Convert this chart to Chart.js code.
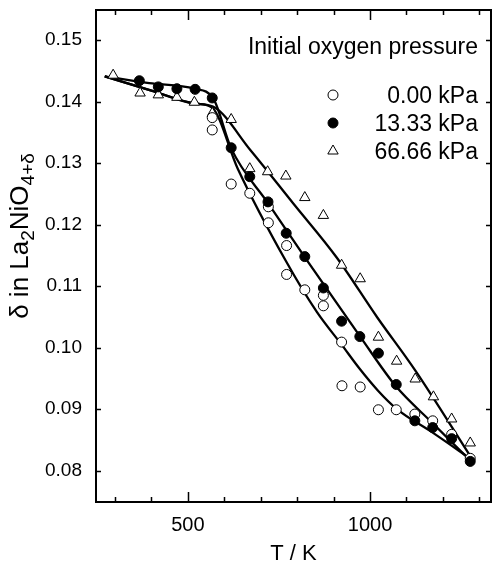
<!DOCTYPE html>
<html>
<head>
<meta charset="utf-8">
<script src="https://cdn.jsdelivr.net/npm/chart.js@4.4.1/dist/chart.umd.min.js"></script>
<style>
  html, body { margin: 0; padding: 0; background: #fff; }
  #wrap { width: 498px; height: 572px; position: relative; }
</style>
</head>
<body>
<div id="wrap"><canvas id="c" width="498" height="572"></canvas></div>
<script>
const FONT = '"Liberation Sans", Arial, Helvetica, sans-serif';

// Measured oxygen nonstoichiometry, 0.00 kPa initial O2
const tempOpen  = [567, 567, 619, 670, 721, 721, 771, 771, 821, 872, 872, 922, 923, 973, 1023, 1072, 1123, 1172, 1224, 1275];
const deltaOpen = [0.1374, 0.1354, 0.1266, 0.1251, 0.1229, 0.1203, 0.1166, 0.1119, 0.1094, 0.1085, 0.1068, 0.1009, 0.0938, 0.0936, 0.0899, 0.0899, 0.0892, 0.0881, 0.0859, 0.0820];

// 13.33 kPa
const tempFilled  = [367, 419, 470, 520, 567, 619, 670, 720, 770, 821, 872, 922, 972, 1023, 1072, 1123, 1172, 1224, 1275];
const deltaFilled = [0.1434, 0.1424, 0.1421, 0.1420, 0.1406, 0.1325, 0.1278, 0.1237, 0.1186, 0.1148, 0.1097, 0.1043, 0.1018, 0.0991, 0.0940, 0.0881, 0.0870, 0.0852, 0.0815];

// 66.66 kPa
const tempTri  = [295, 369, 419, 470, 518, 567, 619, 670, 719, 769, 821, 872, 922, 973, 1023, 1073, 1124, 1174, 1224, 1275];
const deltaTri = [0.1443, 0.1414, 0.1411, 0.1407, 0.1399, 0.1381, 0.1371, 0.1291, 0.1286, 0.1279, 0.1244, 0.1215, 0.1134, 0.1112, 0.1017, 0.0978, 0.0949, 0.0920, 0.0884, 0.0845];

// Fitted curves
const fitTempA  = [272, 400, 518, 565, 637, 768, 854, 923, 971, 1022, 1072, 1174, 1276];
const fitDeltaA = [0.1441, 0.1418, 0.1397, 0.1391, 0.1291, 0.1142, 0.1058, 0.1004, 0.0966, 0.0930, 0.0901, 0.0861, 0.0819];
const fitTempB  = [272, 394, 518, 570, 619, 720, 827, 973, 1070, 1172, 1276];
const fitDeltaB = [0.1441, 0.1430, 0.1421, 0.1405, 0.1324, 0.1235, 0.1142, 0.1018, 0.0938, 0.0877, 0.0816];
const fitTempC  = [272, 400, 518, 569, 672, 790, 908, 1020, 1124, 1279];
const fitDeltaC = [0.1441, 0.1418, 0.1397, 0.1392, 0.1321, 0.1234, 0.1147, 0.1049, 0.0963, 0.0820];

// Axes
const xLabelTicks = [500, 1000];
const xMinorTicks = [300, 400, 500, 600, 700, 800, 900, 1000, 1100, 1200, 1300];
const yTickValues = [0.08, 0.09, 0.10, 0.11, 0.12, 0.13, 0.14, 0.15];
const xTitle = 'T / K';

// Legend
const legendTitle = 'Initial oxygen pressure';
const seriesLabels = ['0.00 kPa', '13.33 kPa', '66.66 kPa'];

const toPts = (xs, ys) => xs.map((v, i) => ({ x: v, y: ys[i] }));

const lineStyle = {
  showLine: true, pointRadius: 0, pointHoverRadius: 0,
  borderColor: '#000', borderWidth: 2.3, fill: false,
  cubicInterpolationMode: 'monotone'
};

function drawMarker(ctx, kind, x, y) {
  ctx.save();
  ctx.strokeStyle = '#000';
  ctx.lineWidth = 1;
  ctx.beginPath();
  if (kind === 'tri') {
    const r = 6;
    ctx.moveTo(x, y - r);
    ctx.lineTo(x + r * Math.sin(Math.PI * 2 / 3), y - r * Math.cos(Math.PI * 2 / 3));
    ctx.lineTo(x - r * Math.sin(Math.PI * 2 / 3), y - r * Math.cos(Math.PI * 2 / 3));
    ctx.closePath();
    ctx.fillStyle = '#fff';
  } else {
    ctx.arc(x, y, 5, 0, Math.PI * 2);
    ctx.fillStyle = kind === 'filled' ? '#000' : '#fff';
  }
  ctx.fill();
  ctx.stroke();
  ctx.restore();
}

const decorations = {
  id: 'decorations',
  afterDatasetsDraw(chart) {
    const { ctx, chartArea: a, scales: { x, y } } = chart;
    ctx.save();
    // frame
    ctx.strokeStyle = '#000';
    ctx.lineWidth = 2;
    ctx.strokeRect(a.left, a.top, a.right - a.left, a.bottom - a.top);
    // inward ticks
    ctx.lineWidth = 1.5;
    ctx.beginPath();
    xMinorTicks.forEach(v => {
      const px = Math.round(x.getPixelForValue(v)) + 0.5;
      const len = xLabelTicks.includes(v) ? 10 : 5;
      ctx.moveTo(px, a.bottom); ctx.lineTo(px, a.bottom - len);
      ctx.moveTo(px, a.top); ctx.lineTo(px, a.top + len);
    });
    yTickValues.forEach(v => {
      const py = Math.round(y.getPixelForValue(v)) + 0.5;
      ctx.moveTo(a.left, py); ctx.lineTo(a.left + 5, py);
      ctx.moveTo(a.right, py); ctx.lineTo(a.right - 5, py);
    });
    ctx.stroke();

    // legend
    ctx.fillStyle = '#000';
    ctx.textAlign = 'right';
    ctx.textBaseline = 'alphabetic';
    ctx.font = '23px ' + FONT;
    ctx.fillText(legendTitle, 478, 54);
    const kinds = ['open', 'filled', 'tri'];
    const rows = [95, 123, 151];
    seriesLabels.forEach((lab, i) => {
      drawMarker(ctx, kinds[i], 333, rows[i]);
      ctx.fillStyle = '#000';
      ctx.fillText(lab, 478, rows[i] + 8);
    });

    // x title
    ctx.textAlign = 'center';
    ctx.font = '22px ' + FONT;
    ctx.fillText(xTitle, (a.left + a.right) / 2, 560);

    // y title with subscripts
    ctx.translate(28, 236);
    ctx.rotate(-Math.PI / 2);
    const main = '26px ' + FONT, sub = '19px ' + FONT;
    const parts = [
      { t: '\u03b4 in La', f: main, dy: 0 },
      { t: '2', f: sub, dy: 6 },
      { t: 'NiO', f: main, dy: 0 },
      { t: '4+\u03b4', f: sub, dy: 6 }
    ];
    let total = 0;
    parts.forEach(p => { ctx.font = p.f; p.w = ctx.measureText(p.t).width; total += p.w; });
    let cx = -total / 2;
    ctx.textAlign = 'left';
    parts.forEach(p => { ctx.font = p.f; ctx.fillText(p.t, cx, p.dy); cx += p.w; });
    ctx.restore();
  }
};

new Chart(document.getElementById('c'), {
  type: 'scatter',
  data: {
    datasets: [
      { label: seriesLabels[1], data: toPts(tempFilled, deltaFilled), pointStyle: 'circle', pointRadius: 5, pointBackgroundColor: '#000', pointBorderColor: '#000', pointBorderWidth: 1 },
      { label: seriesLabels[0], data: toPts(tempOpen, deltaOpen), pointStyle: 'circle', pointRadius: 5, pointBackgroundColor: '#fff', pointBorderColor: '#000', pointBorderWidth: 1 },
      { label: seriesLabels[2], data: toPts(tempTri, deltaTri), pointStyle: 'triangle', pointRadius: 6, pointBackgroundColor: '#fff', pointBorderColor: '#000', pointBorderWidth: 1 },
      Object.assign({ label: 'fit A', data: toPts(fitTempA, fitDeltaA) }, lineStyle),
      Object.assign({ label: 'fit B', data: toPts(fitTempB, fitDeltaB) }, lineStyle),
      Object.assign({ label: 'fit C', data: toPts(fitTempC, fitDeltaC) }, lineStyle)
    ]
  },
  options: {
    responsive: false,
    devicePixelRatio: 1,
    animation: false,
    layout: { padding: { top: 10, right: 1, left: 0, bottom: 0 } },
    plugins: { legend: { display: false }, tooltip: { enabled: false } },
    scales: {
      x: {
        type: 'linear', min: 248, max: 1332,
        grid: { display: false, drawTicks: false },
        border: { display: false },
        afterBuildTicks: s => { s.ticks = xLabelTicks.map(v => ({ value: v })); },
        afterFit: s => { s.height = 70; s.paddingLeft = 0; s.paddingRight = 0; },
        ticks: { color: '#000', font: { family: FONT, size: 20 }, padding: 11, autoSkip: false, maxRotation: 0,
                 callback: v => String(v) }
      },
      y: {
        type: 'linear', min: 0.0749, max: 0.1549,
        grid: { display: false, drawTicks: false },
        border: { display: false },
        afterBuildTicks: s => { s.ticks = yTickValues.map(v => ({ value: v })); },
        afterFit: s => { s.width = 96; s.paddingTop = 0; s.paddingBottom = 0; },
        ticks: { color: '#000', font: { family: FONT, size: 19 }, padding: 14, autoSkip: false,
                 callback: v => v.toFixed(2) }
      }
    }
  },
  plugins: [decorations]
});
</script>
</body>
</html>
